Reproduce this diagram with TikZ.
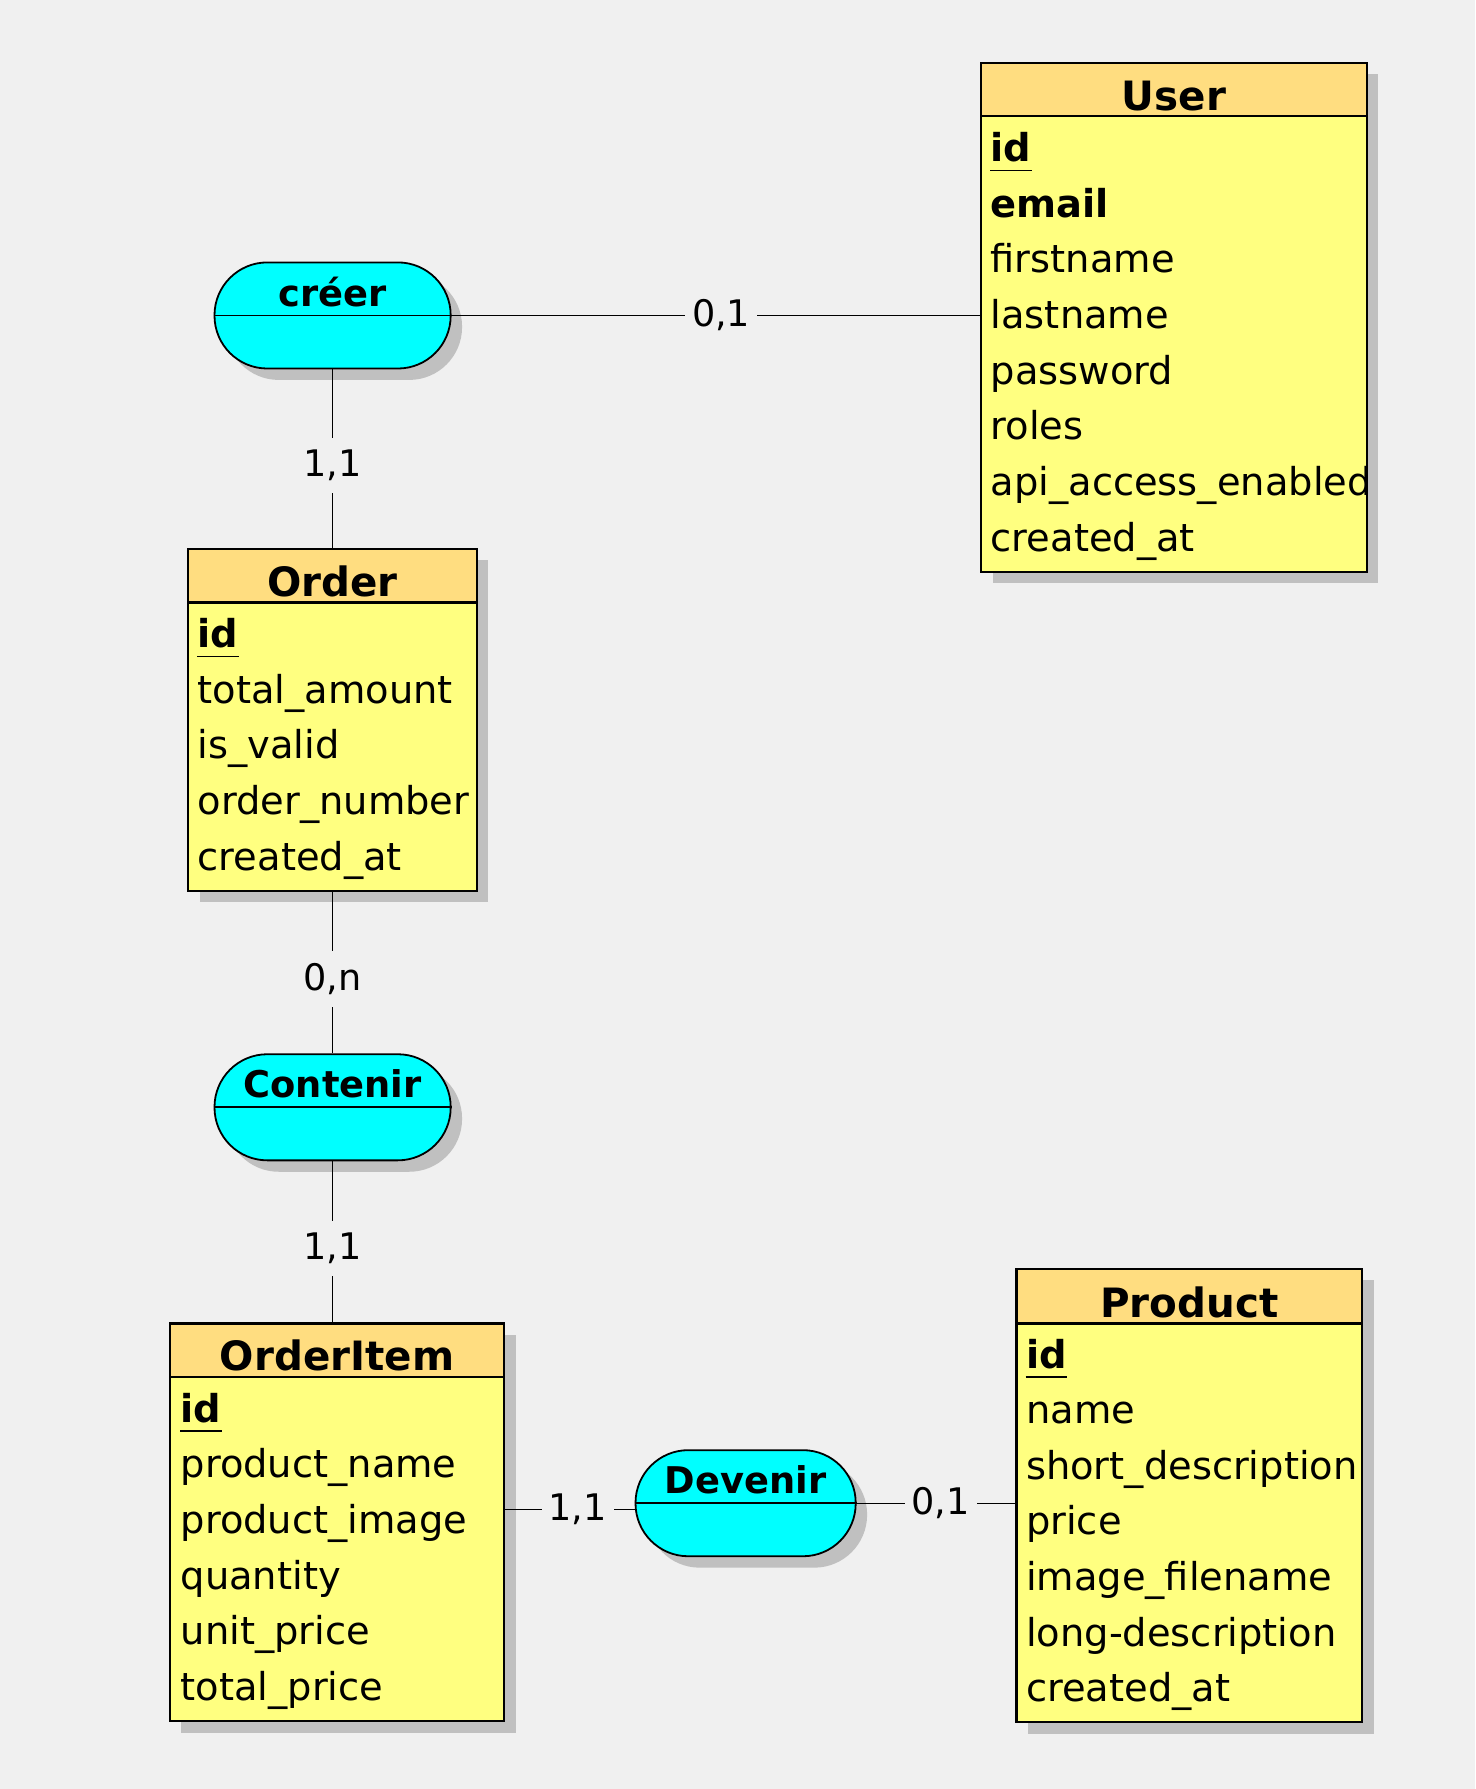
\documentclass[tikz,border=0pt]{standalone}
\usepackage{fontspec}
\setmainfont{DejaVu Sans}
\usetikzlibrary{fit, shadows}
\definecolor{fond}{HTML}{F0F0F0}
\definecolor{entete}{HTML}{FFDD80}
\definecolor{corps}{HTML}{FFFF80}
\definecolor{assoc}{HTML}{00FFFF}
\definecolor{gris}{HTML}{C0C0C0}
\newcommand{\champfont}{\fontsize{19.2}{23}\selectfont}
\tikzset{ombre/.style={drop shadow={shadow xshift=5.7pt, shadow yshift=-5.7pt, fill=gris, opacity=1}}}
\tikzset{tete/.style={draw, line width=1.1pt, fill=entete, inner sep=0pt, ombre}}
\tikzset{table/.style={draw, line width=1.1pt, fill=corps, inner sep=0pt, ombre}}
\tikzset{titre/.style={anchor=base, inner sep=0pt, font=\bfseries\fontsize{20.2}{24}\selectfont}}
\tikzset{champ/.style={anchor=base west, inner sep=0pt, font=\champfont}}
\tikzset{cle/.style={champ, font=\champfont\bfseries}}
\tikzset{asso/.style={draw, line width=0.9pt, fill=assoc, inner sep=0pt, rounded corners=26.4pt, ombre}}
\tikzset{nomasso/.style={anchor=base, inner sep=0pt, font=\bfseries\fontsize{18.4}{22}\selectfont}}
\tikzset{lien/.style={line width=0.5pt}}
\tikzset{card/.style={fill=fond, inner xsep=3.4pt, inner ysep=6pt, font=\fontsize{18.3}{22}\selectfont}}

\begin{document}
\begin{tikzpicture}[x=0.5704pt, y=-0.5704pt]
  \fill[fond] (0,0) rectangle (1293,1568);
  \useasboundingbox (0,0) rectangle (1293,1568);

  % entite User
  \node[tete, fit={(860,55) (1198,102)}] (user) {};
  \node[table, fit={(860,102) (1198,501)}] (user-body) {};
  \node[titre] at ([yshift=3.7pt]user.south) {User};
  \node[cle] (user-id) at (868,141.6) {id};
  \draw[line width=0.75pt] ([yshift=-4.4pt]user-id.base west) -- ([yshift=-4.4pt]user-id.base east);
  \node[cle] at (868,190.4) {email};
  \foreach \champ [count=\i from 2] in {firstname, lastname, password, roles, api\_access\_enabled, created\_at}
    \node[champ] at (868,{141.6+48.77*\i}) {\champ};

  % entite Order
  \node[tete, fit={(165,481) (418,528)}] (order) {};
  \node[table, fit={(165,528) (418,781)}] (order-body) {};
  \node[titre] at ([yshift=3.7pt]order.south) {Order};
  \node[cle] (order-id) at (173,567.6) {id};
  \draw[line width=0.75pt] ([yshift=-4.4pt]order-id.base west) -- ([yshift=-4.4pt]order-id.base east);
  \foreach \champ [count=\i from 1] in {total\_amount, is\_valid, order\_number, created\_at}
    \node[champ] at (173,{567.6+48.77*\i}) {\champ};

  % entite OrderItem
  \node[tete, fit={(149,1160) (442,1207)}] (orderitem) {};
  \node[table, fit={(149,1207) (442,1508.5)}] (orderitem-body) {};
  \node[titre] at ([yshift=3.7pt]orderitem.south) {OrderItem};
  \node[cle] (orderitem-id) at (158,1246.6) {id};
  \draw[line width=0.75pt] ([yshift=-4.4pt]orderitem-id.base west) -- ([yshift=-4.4pt]orderitem-id.base east);
  \foreach \champ [count=\i from 1] in {product\_name, product\_image, quantity, unit\_price, total\_price}
    \node[champ] at (158,{1246.6+48.77*\i}) {\champ};

  % entite Product
  \node[tete, fit={(891,1112) (1194,1160)}] (product) {};
  \node[table, fit={(891,1160) (1194,1509.5)}] (product-body) {};
  \node[titre] at ([yshift=3.7pt]product.south) {Product};
  \node[cle] (product-id) at (899,1199) {id};
  \draw[line width=0.75pt] ([yshift=-4.4pt]product-id.base west) -- ([yshift=-4.4pt]product-id.base east);
  \foreach \champ [count=\i from 1] in {name, short\_description, price, image\_filename, long-description, created\_at}
    \node[champ] at (899,{1199+48.77*\i}) {\champ};

  % associations
  \node[asso, fit={(188,230) (395,323)}] (creer) {};
  \draw[line width=0.8pt] (creer.west) -- (creer.east);
  \node[nomasso] at ([yshift=4.7pt]creer.center) {créer};

  \node[asso, fit={(188,924) (395,1017)}] (contenir) {};
  \draw[line width=0.8pt] (contenir.west) -- (contenir.east);
  \node[nomasso] at ([yshift=4.9pt]contenir.center) {Contenir};

  \node[asso, fit={(557,1271) (750,1364)}] (devenir) {};
  \draw[line width=0.8pt] (devenir.west) -- (devenir.east);
  \node[nomasso] at ([yshift=4.9pt]devenir.center) {Devenir};

  % liens
  \draw[lien] (creer.east) -- node[card, pos=0.51] {0,1} (creer.east -| user-body.west);
  \draw[lien] (creer.south) -- node[card, pos=0.54] {1,1} (order.north);
  \draw[lien] (order-body.south) -- node[card, pos=0.54] {0,n} (contenir.north);
  \draw[lien] (contenir.south) -- node[card, pos=0.54] {1,1} (contenir.south |- orderitem.north);
  \draw[lien] ([yshift=-3pt]devenir.west) -- node[card, pos=0.44] {1,1} ([yshift=-3pt]devenir.west -| orderitem-body.east);
  \draw[lien] (devenir.east) -- node[card, pos=0.53] {0,1} (devenir.east -| product-body.west);
\end{tikzpicture}
\end{document}
